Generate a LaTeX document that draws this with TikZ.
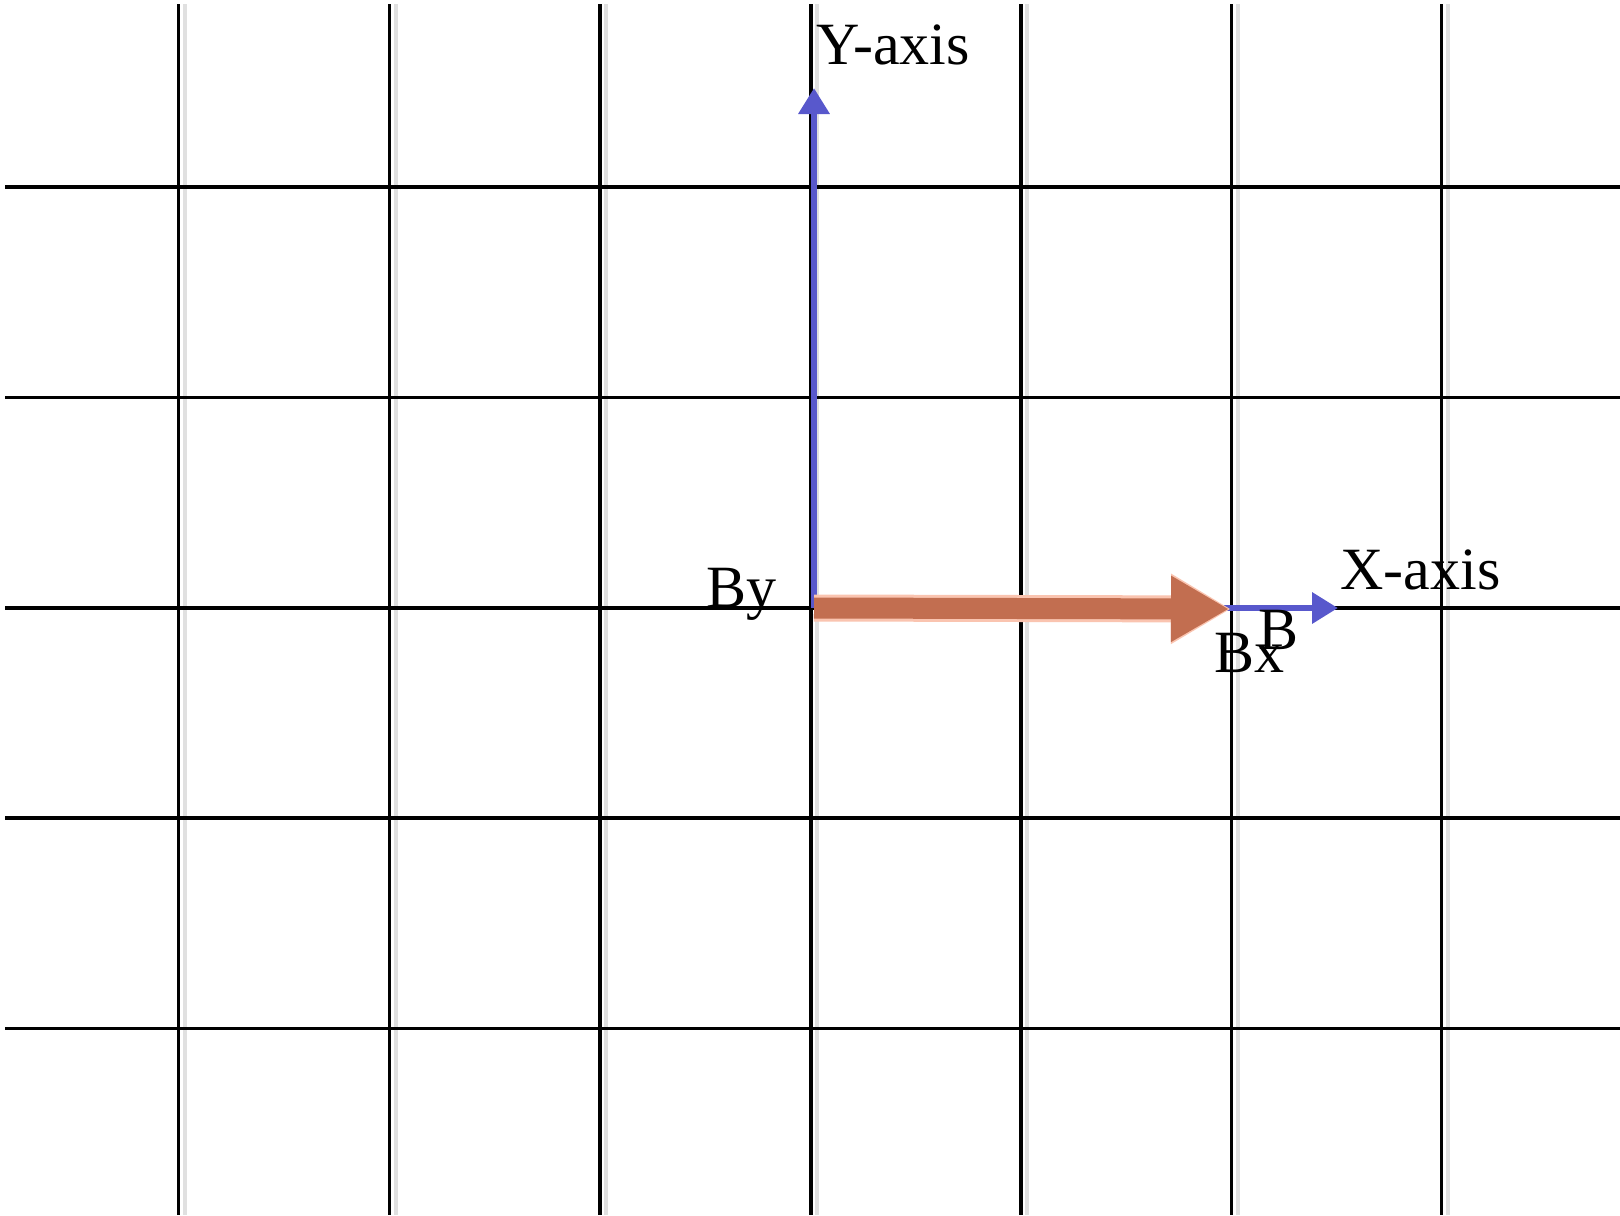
\documentclass[tikz,border=0pt]{standalone}
\usepackage{fontspec}
\setmainfont{Liberation Serif}
\usetikzlibrary{arrows.meta}
\definecolor{axisblue}{RGB}{88,88,204}
\definecolor{vecorange}{RGB}{194,110,80}
\definecolor{vechalo}{RGB}{250,196,176}
\begin{document}
\begin{tikzpicture}[x=0.5pt,y=-0.5pt,
  gridline/.style={black,line width=1.8pt},
  gridshadow/.style={black!12,line width=2pt},
  axisarrow/.style={axisblue,line width=3.3pt,-{Triangle[length=13pt,width=15pt]}},
  vecarrow/.style={vecorange,line width=10.5pt,-{Triangle[length=29pt,width=31pt]}},
  lbl/.style={inner sep=0pt,font=\fontsize{30}{32}\selectfont,anchor=base west}]
\useasboundingbox (0,0) rectangle (1620,1215);
\fill[white] (0,0) rectangle (1620,1215);
% grid shadows
\foreach \x in {178.5,389.5,600,811,1021,1231.5,1441.5}
  \draw[gridshadow] (\x+6,4) -- (\x+6,1215);
% grid
\foreach \x in {178.5,389.5,600,811,1021,1231.5,1441.5}
  \draw[gridline] (\x,4) -- (\x,1215);
\foreach \y in {187,397.5,608,818,1028.5}
  \draw[gridline] (5,\y) -- (1620,\y);
% vectors
\coordinate (O) at (814,608);
\coordinate (Ytip) at (814,88);
\coordinate (Xtip) at (1338,608);
\coordinate (Btip) at (1229,609);
\draw[axisarrow] (O) -- (Ytip);
\draw[axisarrow] (O) -- (Xtip);
\draw[vechalo,line width=13.5pt,-{Triangle[length=30pt,width=33pt]}] (O) -- ([xshift=1pt]Btip);
\draw[vecarrow] (O) -- (Btip);
% labels
\node[lbl] (ylab) at (816,64) {Y-axis};
\node[lbl] (xlab) at (1340,589) {X-axis};
\node[lbl] (by) at (706,607) {By};
\node[lbl] (bx) at (1214,672) {Bx};
\node[lbl] (b) at (1258,649) {B};
\end{tikzpicture}
\end{document}
